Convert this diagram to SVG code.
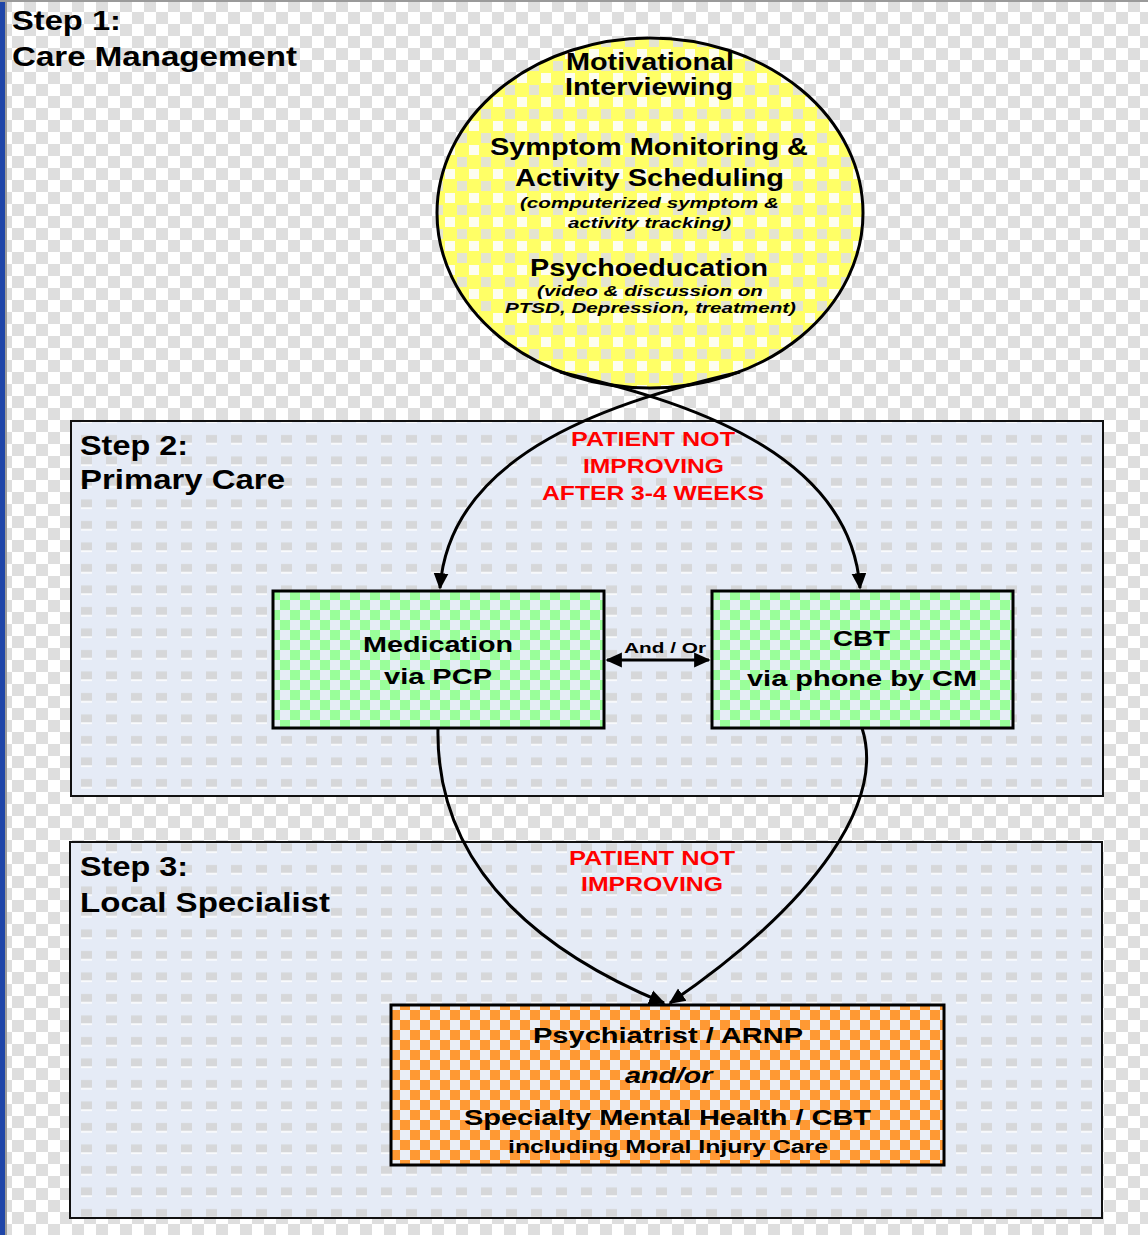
<svg xmlns="http://www.w3.org/2000/svg" width="1148" height="1235" viewBox="0 0 1148 1235">
<style>
.t{font-family:"Liberation Sans",Arial,sans-serif;font-weight:bold;fill:#000}
.i{font-style:italic}
.r{fill:#ff0000}
.step{fill:url(#blu);stroke:#111;stroke-width:2}
.conn{fill:none;stroke:#000;stroke-width:3}
</style>
<defs>
<pattern id="chk" width="24" height="24" patternUnits="userSpaceOnUse">
<rect width="24" height="24" fill="#ffffff"/>
<rect x="0" y="0" width="12" height="12" fill="#dedede"/>
<rect x="12" y="12" width="12" height="12" fill="#dedede"/>
</pattern>
<pattern id="blu" width="25" height="21.5" patternUnits="userSpaceOnUse">
<rect width="25" height="21.5" fill="#e5ebf6"/>
<rect x="6" y="5" width="11" height="8" fill="#d6d7d9"/>
<rect x="6" y="13" width="11" height="1.5" fill="#ffffff"/>
</pattern>
<pattern id="grn" width="20" height="20" patternUnits="userSpaceOnUse">
<rect width="20" height="20" fill="#e6ecf6"/>
<rect x="0" y="0" width="10" height="10" fill="#99ff99"/>
<rect x="10" y="10" width="10" height="10" fill="#99ff99"/>
</pattern>
<pattern id="org" width="20" height="20" patternUnits="userSpaceOnUse">
<rect width="20" height="20" fill="#e9eef7"/>
<rect x="0" y="0" width="10" height="10" fill="#ff9933"/>
<rect x="10" y="10" width="10" height="10" fill="#ff9933"/>
</pattern>
<pattern id="yel" width="24" height="24" patternUnits="userSpaceOnUse">
<rect width="24" height="24" fill="#ffff66"/>
<rect x="13" y="1" width="10" height="10" fill="#fdfdf0"/>
<rect x="1" y="13" width="10" height="10" fill="#e4e4d0"/>
</pattern>
<marker id="ah" viewBox="0 0 10 10" refX="9" refY="5" markerWidth="5.5" markerHeight="5.5" orient="auto-start-reverse" markerUnits="strokeWidth">
<path d="M0,0.5 L10,5 L0,9.5 z" fill="#000"/>
</marker>
</defs>

<rect width="1148" height="1235" fill="url(#chk)"/>
<rect x="0" y="0" width="5" height="1235" fill="#1f45a8"/>
<rect x="5" y="0" width="2" height="1235" fill="#9a9a9a"/>
<rect x="0" y="0" width="1148" height="2" fill="#9a9a9a"/>

<g id="step1">
<text class="t" transform="translate(12,30) scale(1.25,1)" font-size="28" textLength="87.2" lengthAdjust="spacingAndGlyphs">Step 1:</text>
<text class="t" transform="translate(12,66) scale(1.25,1)" font-size="28" textLength="228" lengthAdjust="spacingAndGlyphs">Care Management</text>
</g>

<g id="step2">
<rect class="step" x="71" y="421" width="1032" height="375"/>
<text class="t" transform="translate(80,455) scale(1.25,1)" font-size="28" textLength="86.4" lengthAdjust="spacingAndGlyphs">Step 2:</text>
<text class="t" transform="translate(80,489) scale(1.25,1)" font-size="28" textLength="164" lengthAdjust="spacingAndGlyphs">Primary Care</text>
</g>

<g id="step3">
<rect class="step" x="70" y="842" width="1032" height="376"/>
<text class="t" transform="translate(80,876) scale(1.25,1)" font-size="28" textLength="86.4" lengthAdjust="spacingAndGlyphs">Step 3:</text>
<text class="t" transform="translate(80,912) scale(1.25,1)" font-size="28" textLength="200" lengthAdjust="spacingAndGlyphs">Local Specialist</text>
</g>

<g id="care-management">
<ellipse cx="650" cy="213" rx="213" ry="175" fill="url(#yel)" stroke="#000" stroke-width="3"/>
<text class="t" transform="translate(566,70) scale(1.25,1)" font-size="23" textLength="134.4" lengthAdjust="spacingAndGlyphs">Motivational</text>
<text class="t" transform="translate(565,95) scale(1.25,1)" font-size="23" textLength="134.4" lengthAdjust="spacingAndGlyphs">Interviewing</text>
<text class="t" transform="translate(490,155) scale(1.25,1)" font-size="23" textLength="254.4" lengthAdjust="spacingAndGlyphs">Symptom Monitoring &amp;</text>
<text class="t" transform="translate(515,186) scale(1.25,1)" font-size="23" textLength="215.2" lengthAdjust="spacingAndGlyphs">Activity Scheduling</text>
<text class="t i" transform="translate(520,208) scale(1.25,1)" font-size="15" textLength="207.2" lengthAdjust="spacingAndGlyphs">(computerized symptom &amp;</text>
<text class="t i" transform="translate(568,228) scale(1.25,1)" font-size="15" textLength="130.4" lengthAdjust="spacingAndGlyphs">activity tracking)</text>
<text class="t" transform="translate(530,276) scale(1.25,1)" font-size="23" textLength="190.4" lengthAdjust="spacingAndGlyphs">Psychoeducation</text>
<text class="t i" transform="translate(537,296) scale(1.25,1)" font-size="15" textLength="180.8" lengthAdjust="spacingAndGlyphs">(video &amp; discussion on</text>
<text class="t i" transform="translate(505,313) scale(1.25,1)" font-size="15" textLength="232.8" lengthAdjust="spacingAndGlyphs">PTSD, Depression, treatment)</text>
</g>

<g id="medication">
<rect x="273" y="591" width="331" height="137" fill="url(#grn)" stroke="#000" stroke-width="3"/>
<text class="t" transform="translate(363,652) scale(1.25,1)" font-size="22" textLength="120" lengthAdjust="spacingAndGlyphs">Medication</text>
<text class="t" transform="translate(384,684) scale(1.25,1)" font-size="22" textLength="86.4" lengthAdjust="spacingAndGlyphs">via PCP</text>
</g>

<g id="cbt">
<rect x="712" y="591" width="301" height="137" fill="url(#grn)" stroke="#000" stroke-width="3"/>
<text class="t" transform="translate(833,646) scale(1.25,1)" font-size="22" textLength="45.6" lengthAdjust="spacingAndGlyphs">CBT</text>
<text class="t" transform="translate(747,686) scale(1.25,1)" font-size="22" textLength="184" lengthAdjust="spacingAndGlyphs">via phone by CM</text>
</g>

<g id="specialist">
<rect x="391" y="1005" width="553" height="160" fill="url(#org)" stroke="#000" stroke-width="3"/>
<text class="t" transform="translate(533,1043) scale(1.25,1)" font-size="22" textLength="216" lengthAdjust="spacingAndGlyphs">Psychiatrist / ARNP</text>
<text class="t i" transform="translate(625,1083) scale(1.25,1)" font-size="22" textLength="70" lengthAdjust="spacingAndGlyphs">and/or</text>
<text class="t" transform="translate(464,1125) scale(1.25,1)" font-size="22" textLength="325.6" lengthAdjust="spacingAndGlyphs">Specialty Mental Health / CBT</text>
<text class="t" transform="translate(508,1153) scale(1.25,1)" font-size="18" textLength="256" lengthAdjust="spacingAndGlyphs">including Moral Injury Care</text>
</g>

<g id="connectors">
<path class="conn" d="M 740 372 C 620 400, 450 450, 440 588" marker-end="url(#ah)"/>
<path class="conn" d="M 560 372 C 680 400, 850 450, 860 588" marker-end="url(#ah)"/>
<path class="conn" d="M 438 728 C 435 880, 560 960, 664 1003" marker-end="url(#ah)"/>
<path class="conn" d="M 862 728 C 885 800, 820 900, 670 1003" marker-end="url(#ah)"/>
<path class="conn" d="M 607 660 L 709 660" marker-start="url(#ah)" marker-end="url(#ah)"/>
<text class="t" transform="translate(624,653) scale(1.25,1)" font-size="15" textLength="65.6" lengthAdjust="spacingAndGlyphs">And / Or</text>
<text class="t r" transform="translate(571,446) scale(1.25,1)" font-size="21" textLength="131.2" lengthAdjust="spacingAndGlyphs">PATIENT NOT</text>
<text class="t r" transform="translate(583,473) scale(1.25,1)" font-size="21" textLength="112.8" lengthAdjust="spacingAndGlyphs">IMPROVING</text>
<text class="t r" transform="translate(542,500) scale(1.25,1)" font-size="21" textLength="177.6" lengthAdjust="spacingAndGlyphs">AFTER 3-4 WEEKS</text>
<text class="t r" transform="translate(569,865) scale(1.25,1)" font-size="21" textLength="132.8" lengthAdjust="spacingAndGlyphs">PATIENT NOT</text>
<text class="t r" transform="translate(581,891) scale(1.25,1)" font-size="21" textLength="113.6" lengthAdjust="spacingAndGlyphs">IMPROVING</text>
</g>
</svg>
